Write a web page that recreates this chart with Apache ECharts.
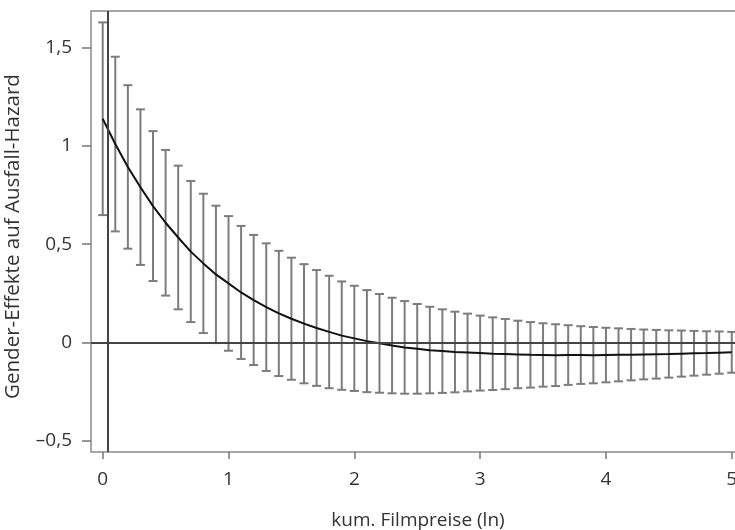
<!DOCTYPE html>
<html>
<head>
<meta charset="utf-8">
<script src="https://cdn.jsdelivr.net/npm/echarts@6/dist/echarts.min.js"></script>
<style>
  html, body { margin: 0; padding: 0; background: #fff; }
  #zf { width: 735px; height: 530px; }
</style>
</head>
<body>
<div id="zf"></div>
<script>
// x-Werte (kum. Filmpreise, ln)
var xs = [0.0,0.1,0.2,0.3,0.4,0.5,0.6,0.7,0.8,0.9,1.0,1.1,1.2,1.3,1.4,1.5,1.6,1.7,1.8,1.9,2.0,
  2.1,2.2,2.3,2.4,2.5,2.6,2.7,2.8,2.9,3.0,3.1,3.2,3.3,3.4,3.5,3.6,3.7,3.8,3.9,4.0,
  4.1,4.2,4.3,4.4,4.5,4.6,4.7,4.8,4.9,5.0];

// Punktschaetzer (Kurve)
var effekt = [1.139,1.010,0.893,0.790,0.694,0.609,0.534,0.462,0.402,0.346,0.300,
  0.254,0.215,0.179,0.147,0.120,0.095,0.073,0.053,0.034,0.020,
  0.006,-0.005,-0.016,-0.026,-0.033,-0.040,-0.045,-0.050,-0.052,-0.055,
  -0.058,-0.060,-0.062,-0.064,-0.065,-0.066,-0.065,-0.065,-0.066,-0.065,
  -0.064,-0.063,-0.062,-0.061,-0.060,-0.058,-0.056,-0.055,-0.053,-0.051];

// Konfidenzintervall oben / unten
var oben = [1.630,1.455,1.310,1.187,1.076,0.980,0.900,0.822,0.757,0.696,0.643,
  0.593,0.547,0.504,0.466,0.431,0.398,0.368,0.339,0.310,0.288,
  0.266,0.246,0.227,0.210,0.195,0.181,0.168,0.156,0.146,0.136,
  0.127,0.119,0.110,0.103,0.097,0.092,0.087,0.082,0.078,0.074,
  0.071,0.068,0.065,0.063,0.061,0.060,0.058,0.056,0.055,0.053];
var unten = [0.648,0.565,0.477,0.394,0.312,0.238,0.168,0.103,0.047,-0.004,-0.043,
  -0.085,-0.116,-0.146,-0.172,-0.191,-0.209,-0.222,-0.234,-0.242,-0.248,
  -0.254,-0.257,-0.260,-0.262,-0.262,-0.260,-0.258,-0.255,-0.250,-0.246,
  -0.243,-0.239,-0.234,-0.231,-0.226,-0.223,-0.217,-0.212,-0.209,-0.204,
  -0.199,-0.194,-0.189,-0.185,-0.180,-0.175,-0.170,-0.165,-0.160,-0.155];

var xTicks = [0, 1, 2, 3, 4, 5];
var yTicks = [-0.5, 0, 0.5, 1, 1.5];
var vLinie = 0.045;

var myChart = echarts.init(document.getElementById('zf'));

var fehlerDaten = [];
var kurveDaten = [];
for (var i = 0; i < xs.length; i++) {
    fehlerDaten.push([xs[i], unten[i], oben[i]]);
    kurveDaten.push([xs[i], effekt[i]]);
}

var textFarbe = '#333';
var schrift = '"Open Sans", "DejaVu Sans", sans-serif';

var option = {
    animation: false,
    grid: {
        left: 91, top: 11, width: 660, height: 441,
        outerBoundsMode: 'none',
        containLabel: false,
        show: true, borderColor: '#8a8a8a', borderWidth: 1.5, backgroundColor: 'transparent'
    },
    xAxis: {
        type: 'value',
        min: -0.093, max: 5.153,
        name: 'kum. Filmpreise (ln)',
        nameLocation: 'middle',
        nameGap: 59,
        nameTextStyle: { color: textFarbe, fontSize: 19, fontFamily: schrift, padding: [0, 6, 0, 0] },
        axisLine: { show: false, onZero: false },
        splitLine: { show: false },
        axisTick: { show: true, length: 7, customValues: xTicks, lineStyle: { color: '#777', width: 1.5 } },
        axisLabel: {
            customValues: xTicks, margin: 18,
            color: textFarbe, fontSize: 19, fontFamily: schrift,
            formatter: function (v) { return String(v); }
        }
    },
    yAxis: {
        type: 'value',
        min: -0.559, max: 1.688,
        name: 'Gender-Effekte auf Ausfall-Hazard',
        nameLocation: 'middle',
        nameGap: 67,
        nameTextStyle: { color: textFarbe, fontSize: 20.5, fontFamily: schrift, padding: [0, 10, 0, 0] },
        axisLine: { show: false, onZero: false },
        splitLine: { show: false },
        axisTick: { show: true, length: 9, customValues: yTicks, lineStyle: { color: '#777', width: 1.5 } },
        axisLabel: {
            customValues: yTicks, margin: 19,
            color: textFarbe, fontSize: 19, fontFamily: schrift,
            formatter: function (v) {
                var s = String(v).replace('.', ',');
                return v < 0 ? s.replace('-', '\u2013') : s;
            }
        }
    },
    series: [
        {
            type: 'custom',
            name: 'KI',
            data: fehlerDaten,
            z: 2,
            renderItem: function (params, api) {
                var x = api.value(0);
                var lo = api.coord([x, api.value(1)]);
                var hi = api.coord([x, api.value(2)]);
                var w = 4.5;
                var st = { stroke: '#7c7c7c', lineWidth: 2 };
                return {
                    type: 'group',
                    children: [
                        { type: 'line', shape: { x1: lo[0], y1: lo[1], x2: hi[0], y2: hi[1] }, style: st },
                        { type: 'line', shape: { x1: hi[0] - w, y1: hi[1], x2: hi[0] + w, y2: hi[1] }, style: st },
                        { type: 'line', shape: { x1: lo[0] - w, y1: lo[1], x2: lo[0] + w, y2: lo[1] }, style: st }
                    ]
                };
            }
        },
        {
            type: 'line',
            name: 'Effekt',
            data: kurveDaten,
            showSymbol: false,
            z: 4,
            lineStyle: { color: '#111', width: 2 },
            markLine: {
                silent: true,
                symbol: 'none',
                label: { show: false },
                lineStyle: { color: '#444', width: 2, type: 'solid' },
                data: [
                    { yAxis: 0 },
                    { xAxis: vLinie }
                ]
            }
        }
    ]
};

myChart.setOption(option);
</script>
</body>
</html>
